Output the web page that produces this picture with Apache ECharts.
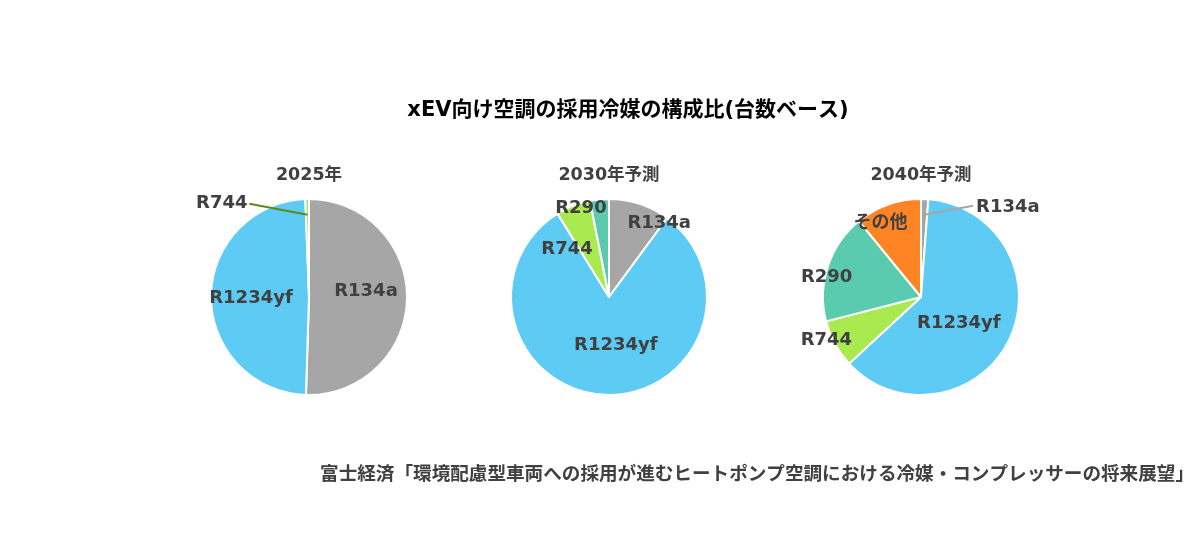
<!DOCTYPE html>
<html>
<head>
<meta charset="utf-8">
<script src="https://cdn.jsdelivr.net/npm/echarts@6/dist/echarts.min.js"></script>
<style>
  html, body { margin: 0; padding: 0; background: #fff; }
  #main { width: 1198px; height: 550px; }
</style>
</head>
<body>
<div id="main"></div>
<script>
let refrigerants = ['R134a', 'R1234yf', 'R744', 'R290', 'その他'];
let years = ['2025年', '2030年予測', '2040年予測'];
let share2025 = [50.5, 48.9, 0.6, 0, 0];
let share2030 = [10.1, 81.1, 5.7, 3.1, 0];
let share2040 = [1.2, 61.9, 7.9, 18.1, 10.9];

let colors = ['#A6A6A6', '#5DCBF4', '#A9EA50', '#5BCBAF', '#FF8423'];
let fontFamily = '"DejaVu Sans", "Noto Sans CJK JP", sans-serif';

// pie centres, and little nudges for the inside labels (Excel "best fit")
let centers = [[309, 297], [609, 297], [921, 297]];
let pieRadius = 98;
let labelNudges = [
    [[5, -6], [-6, 1], null, null, null],
    [[34, -24], [9, -4], [-23, 1], [-23, -37], null],
    [null, [-9, 4], [-49, 18], [-45, -3], [-23, -25]]
];
// slices with an outside label + leader line: [pie, slice, line end dx, dy, line colour, label dy]
let leaders = [
    [0, 2, -58, -11, '#5C8A1A', 0],
    [2, 0, 49, -9, '#A6A6A6', 2]
];
let allShares = [share2025, share2030, share2040];

function findLeader(pie, slice) {
    return leaders.find((l) => l[0] === pie && l[1] === slice);
}

// mid angle of a slice, clockwise from 12 o'clock, in radians
function midAngle(values, slice) {
    let total = values.reduce((a, b) => a + b, 0);
    let before = 0;
    for (let i = 0; i < slice; i++) before += values[i];
    return (before + values[slice] / 2) / total * Math.PI * 2;
}

function leaderGeometry(leader) {
    let pie = leader[0];
    let a = midAngle(allShares[pie], leader[1]);
    let sx = centers[pie][0] + pieRadius * 0.84 * Math.sin(a);
    let sy = centers[pie][1] - pieRadius * 0.84 * Math.cos(a);
    return { sx: sx, sy: sy, ex: sx + leader[2], ey: sy + leader[3] };
}

function buildSeries(values, idx) {
    let data = [];
    values.forEach((v, i) => {
        if (v <= 0) return;
        let item = { value: v, name: refrigerants[i], itemStyle: { color: colors[i] } };
        if (findLeader(idx, i)) {
            item.label = { position: 'outside' };
        } else if (labelNudges[idx][i]) {
            item.label = { position: 'inside', offset: labelNudges[idx][i] };
        }
        data.push(item);
    });
    return {
        name: years[idx],
        type: 'pie',
        center: centers[idx],
        radius: pieRadius,
        startAngle: 90,
        clockwise: true,
        animation: false,
        itemStyle: { borderColor: '#fff', borderWidth: 2 },
        label: {
            show: true,
            position: 'inside',
            formatter: '{b}',
            color: '#404040',
            fontSize: 18,
            fontWeight: 'bold',
            fontFamily: fontFamily
        },
        labelLine: { show: false },
        labelLayout: function (params) {
            let slice = refrigerants.indexOf(data[params.dataIndex].name);
            let leader = findLeader(idx, slice);
            if (!leader) return {};
            let g = leaderGeometry(leader);
            let left = leader[2] < 0;
            return {
                x: left ? g.ex - 2 : g.ex + 3,
                y: g.ey + leader[5],
                align: left ? 'right' : 'left',
                verticalAlign: 'middle'
            };
        },
        emphasis: { disabled: true },
        data: data
    };
}

// leader lines drawn on top of the slices
let leaderLines = leaders.map((leader) => {
    let g = leaderGeometry(leader);
    return {
        type: 'line',
        z: 10,
        silent: true,
        shape: { x1: g.sx, y1: g.sy, x2: g.ex, y2: g.ey },
        style: { stroke: leader[4], lineWidth: 2 }
    };
});

var myChart = echarts.init(document.getElementById('main'));

let subStyle = { color: '#404040', fontSize: 17.5, fontWeight: 'bold', fontFamily: fontFamily };

var option = {
    backgroundColor: '#fff',
    title: [
        {
            text: 'xEV向け空調の採用冷媒の構成比(台数ベース)',
            left: 623, top: 95, textAlign: 'center',
            textStyle: { color: '#000', fontSize: 21, fontWeight: 'bold', fontFamily: fontFamily }
        },
        { text: years[0], left: centers[0][0] - 5, top: 162, textAlign: 'center', textStyle: subStyle },
        { text: years[1], left: centers[1][0] - 5, top: 162, textAlign: 'center', textStyle: subStyle },
        { text: years[2], left: centers[2][0] - 5, top: 162, textAlign: 'center', textStyle: subStyle },
        {
            text: '富士経済「環境配慮型車両への採用が進むヒートポンプ空調における冷媒・コンプレッサーの将来展望」',
            right: -1, top: 461,
            textStyle: { color: '#404040', fontSize: 18.6, fontWeight: 'bold', fontFamily: fontFamily }
        }
    ],
    graphic: leaderLines,
    series: allShares.map((values, idx) => buildSeries(values, idx))
};

myChart.setOption(option);
</script>
</body>
</html>
